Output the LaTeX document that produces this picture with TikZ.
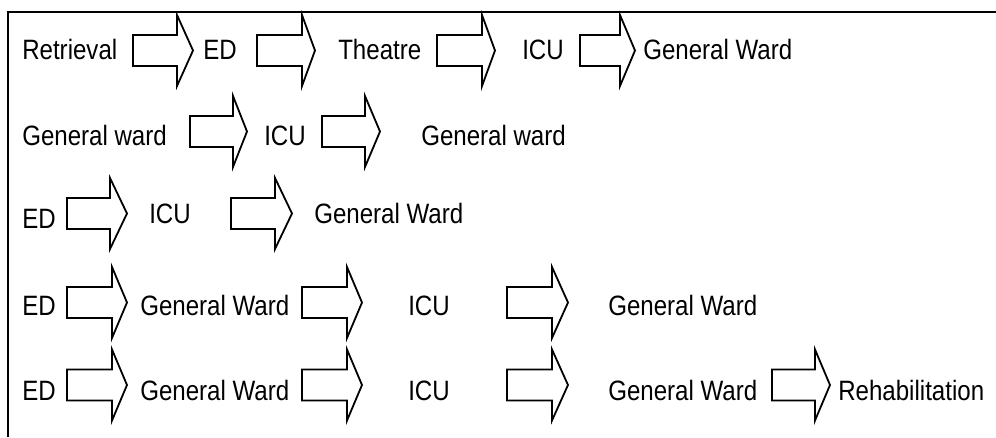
\documentclass[tikz,border=0pt]{standalone}
\usepackage{fontspec}
\setmainfont{Liberation Sans}[FakeStretch=0.86]
\newcommand\blockarr[4]{% #1 shaft left, #2 head base, #3 tip, #4 centre y
  \draw[blockarrow] (#1,#4-15.5) -- (#2,#4-15.5) -- (#2,#4-35.5) -- (#3,#4)
    -- (#2,#4+35.5) -- (#2,#4+15.5) -- (#1,#4+15.5) -- cycle;}
\begin{document}
\begin{tikzpicture}[x=0.75pt,y=-0.75pt,
  lbl/.style={anchor=base west,inner sep=0pt,font=\fontsize{21pt}{25pt}\selectfont},
  blockarrow/.style={draw=black,line width=1.35pt,line join=miter,fill=white},
  frame/.style={draw=black,line width=1pt}]
\useasboundingbox (0,0) rectangle (996,437);
\draw[frame] (8,437) -- (8,12) -- (996,12);
% row 1
\node[lbl] (r1a) at (22,59) {Retrieval};
\node[lbl] (r1b) at (203,59) {ED};
\node[lbl] (r1c) at (338,59) {Theatre};
\node[lbl] (r1d) at (522,59) {ICU};
\node[lbl] (r1e) at (643,59) {General Ward};
\blockarr{133}{177}{193}{50.5}
\blockarr{257}{302}{315}{50.5}
\blockarr{437}{482}{495}{50.5}
\blockarr{580}{620}{635}{50.5}
% row 2
\node[lbl] (r2a) at (22,145) {General ward};
\node[lbl] (r2b) at (264,145) {ICU};
\node[lbl] (r2c) at (421,145) {General ward};
\blockarr{190}{233}{247}{131.5}
\blockarr{322}{365}{380}{131.5}
% row 3
\node[lbl] (r3a) at (22,228) {ED};
\node[lbl] (r3b) at (149,223) {ICU};
\node[lbl] (r3c) at (314,223) {General Ward};
\blockarr{67}{110}{127}{213.5}
\blockarr{231}{275}{292}{213.5}
% row 4
\node[lbl] (r4a) at (22,315) {ED};
\node[lbl] (r4b) at (140,315) {General Ward};
\node[lbl] (r4c) at (408,315) {ICU};
\node[lbl] (r4d) at (608,315) {General Ward};
\blockarr{67}{112}{127}{302.5}
\blockarr{302}{347}{362}{302.5}
\blockarr{507}{552}{568}{302.5}
% row 5
\node[lbl] (r5a) at (22,400) {ED};
\node[lbl] (r5b) at (140,400) {General Ward};
\node[lbl] (r5c) at (408,400) {ICU};
\node[lbl] (r5d) at (608,400) {General Ward};
\node[lbl] (r5e) at (838,400) {Rehabilitation};
\blockarr{67}{112}{127}{385}
\blockarr{302}{347}{362}{385}
\blockarr{507}{552}{568}{385}
\blockarr{772}{815}{830}{385}
\end{tikzpicture}
\end{document}
